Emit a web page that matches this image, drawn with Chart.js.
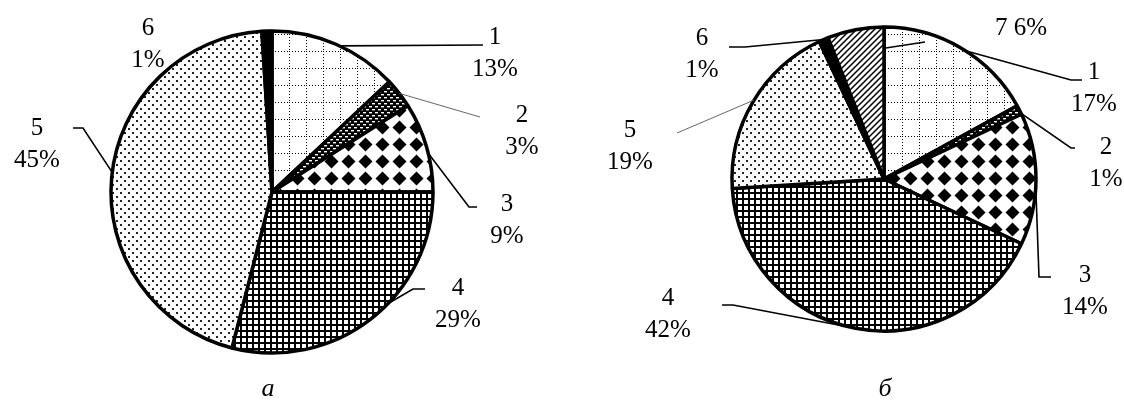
<!DOCTYPE html>
<html>
<head>
<meta charset="utf-8">
<script src="https://cdn.jsdelivr.net/npm/chart.js@4.4.1/dist/chart.umd.min.js"></script>
<style>
  body { margin: 0; background: #fff; }
  #wrap { position: relative; width: 1124px; height: 403px; }
  canvas { position: absolute; top: 0; }
  .probe { position: absolute; left: -9999px; font-family: "Liberation Serif"; }
</style>
</head>
<body>
<span class="probe">1 2 3 %</span><span class="probe" style="font-style:italic">а б</span>
<div id="wrap">
  <canvas id="pieA" width="562" height="403" style="left:0"></canvas>
  <canvas id="pieB" width="562" height="403" style="left:562px"></canvas>
</div>
<script>
// Data
const categoriesA = ["1", "2", "3", "4", "5", "6"];
const valuesA = [13, 3, 9, 29, 45, 1];
const captionA = "а";

const categoriesB = ["1", "2", "3", "4", "5", "6", "7"];
const valuesB = [17, 1, 14, 42, 19, 1, 6];
const captionB = "б";

// Fill patterns (black & white hatching like the original)
function makePattern(w, h, draw) {
  const c = document.createElement("canvas");
  c.width = w;
  c.height = h;
  const g = c.getContext("2d");
  g.fillStyle = "#fff";
  g.fillRect(0, 0, w, h);
  g.fillStyle = "#000";
  g.strokeStyle = "#000";
  draw(g, w, h);
  return g.createPattern(c, "repeat");
}

const patDottedGrid = makePattern(17, 17, (g) => {
  for (let i = 0; i < 17; i += 3) {
    g.fillRect(i, 0, 1, 1);
    g.fillRect(0, i, 1, 1);
  }
});
const patDarkBricks = makePattern(6, 6, (g) => {
  g.fillRect(0, 0, 6, 6);
  g.fillStyle = "#fff";
  g.fillRect(0, 1, 3, 1.4);
  g.fillRect(3, 4, 3, 1.4);
});
const patDiamonds = makePattern(17, 17, (g) => {
  g.beginPath();
  g.moveTo(8.5, 1.5);
  g.lineTo(15.5, 8.5);
  g.lineTo(8.5, 15.5);
  g.lineTo(1.5, 8.5);
  g.closePath();
  g.fill();
  g.fillRect(5, 5, 7, 7);
});
const patSmallGrid = makePattern(6, 6, (g) => {
  g.fillRect(0, 0, 2, 6);
  g.fillRect(0, 0, 6, 2);
});
const patDots = makePattern(8, 8, (g) => {
  g.fillStyle = "#222";
  g.fillRect(0, 0, 2, 2);
  g.fillRect(4, 4, 2, 2);
});
const patHatch = makePattern(6, 6, (g) => {
  g.lineWidth = 1.5;
  g.beginPath();
  g.moveTo(-1, 7); g.lineTo(7, -1);
  g.moveTo(-1, 1); g.lineTo(1, -1);
  g.moveTo(5, 7); g.lineTo(7, 5);
  g.stroke();
});

const fillsA = [patDottedGrid, patDarkBricks, patDiamonds, patSmallGrid, patDots, "#000"];
const fillsB = [patDottedGrid, patDarkBricks, patDiamonds, patSmallGrid, patDots, "#000", patHatch];

// Label layout in page coordinates; leader starts on the slice edge at "at" (fraction along slice)
const layoutA = [
  { lines: ["1", "13%"], x: 495, y: 37, at: 0.53, path: [[483, 45]] },
  { lines: ["2", "3%"], x: 522, y: 115, at: 0.5, path: [[480, 117]], thin: true },
  { lines: ["3", "9%"], x: 507, y: 204, at: 0.57, path: [[469, 207], [477, 207]] },
  { lines: ["4", "29%"], x: 458, y: 288, at: 0.42, path: [[413, 289], [425, 289]] },
  { lines: ["5", "45%"], x: 37, y: 128, at: 0.51, path: [[83, 128], [73, 128]] },
  { lines: ["6", "1%"], x: 148, y: 28, at: null, path: [] },
];
const layoutB = [
  { lines: ["1", "17%"], x: 1094, y: 72, at: 0.53, path: [[1071, 80], [1082, 80]] },
  { lines: ["2", "1%"], x: 1106, y: 147, at: 0.9, path: [[1071, 148], [1075, 148]] },
  { lines: ["3", "14%"], x: 1085, y: 275, at: 0.56, path: [[1039, 277], [1051, 277]] },
  { lines: ["4", "42%"], x: 668, y: 298, at: 0.51, path: [[733, 305], [722, 305]] },
  { lines: ["5", "19%"], x: 630, y: 130, at: 0.51, path: [[677, 133]], thin: true },
  { lines: ["6", "1%"], x: 702, y: 38, at: 0.5, path: [[745, 47], [729, 47]] },
  { lines: ["7 6%"], x: 1021, y: 28, at: 1.0, r: 0.86, path: [[925, 42]] },
];

const FONT = "25px 'Liberation Serif'";

function labelPlugin(layout, offsetX, caption, captionX) {
  return {
    id: "pieLabels",
    afterDraw(chart) {
      const ctx = chart.ctx;
      const arcs = chart.getDatasetMeta(0).data;
      ctx.save();
      ctx.lineCap = "butt";
      ctx.lineJoin = "miter";
      layout.forEach((lab, i) => {
        const arc = arcs[i];
        if (lab.at !== null && arc) {
          const p = arc.getProps(["x", "y", "startAngle", "endAngle", "outerRadius"], true);
          const a = p.startAngle + lab.at * (p.endAngle - p.startAngle);
          const r = p.outerRadius * (lab.r || 1);
          ctx.beginPath();
          ctx.moveTo(p.x + r * Math.cos(a), p.y + r * Math.sin(a));
          lab.path.forEach(([px, py]) => ctx.lineTo(px - offsetX, py));
          ctx.lineWidth = lab.thin ? 0.9 : 1.6;
          ctx.strokeStyle = lab.thin ? "#555" : "#000";
          ctx.stroke();
        }
        ctx.fillStyle = "#000";
        ctx.font = FONT;
        ctx.textAlign = "center";
        ctx.textBaseline = "middle";
        lab.lines.forEach((t, k) => ctx.fillText(t, lab.x - offsetX, lab.y + k * 32));
      });
      ctx.font = "italic 26px 'Liberation Serif'";
      ctx.textAlign = "center";
      ctx.textBaseline = "alphabetic";
      ctx.fillText(caption, captionX - offsetX, 396);
      ctx.restore();
    },
  };
}

function makePie(id, labels, values, fills, radius, padding, plugin) {
  return new Chart(document.getElementById(id), {
    type: "pie",
    data: {
      labels: labels,
      datasets: [
        {
          data: values,
          backgroundColor: fills,
          borderColor: "#000",
          borderWidth: 3.5,
          radius: radius,
        },
      ],
    },
    options: {
      responsive: false,
      animation: false,
      layout: { padding: padding },
      plugins: {
        legend: { display: false },
        tooltip: { enabled: false },
      },
    },
    plugins: [plugin],
  });
}

function build() {
  // Pie a: centre (272,192); pie б: centre (884,179)
  makePie("pieA", categoriesA, valuesA, fillsA, 161,
    { left: 0, right: 18, top: 0, bottom: 19 },
    labelPlugin(layoutA, 0, captionA, 268));
  makePie("pieB", categoriesB, valuesB, fillsB, 152,
    { left: 168, right: 86, top: 25, bottom: 70 },
    labelPlugin(layoutB, 562, captionB, 885));
}

Promise.all([
  document.fonts.load("25px 'Liberation Serif'"),
  document.fonts.load("italic 26px 'Liberation Serif'"),
]).then(build, build);
</script>
</body>
</html>
